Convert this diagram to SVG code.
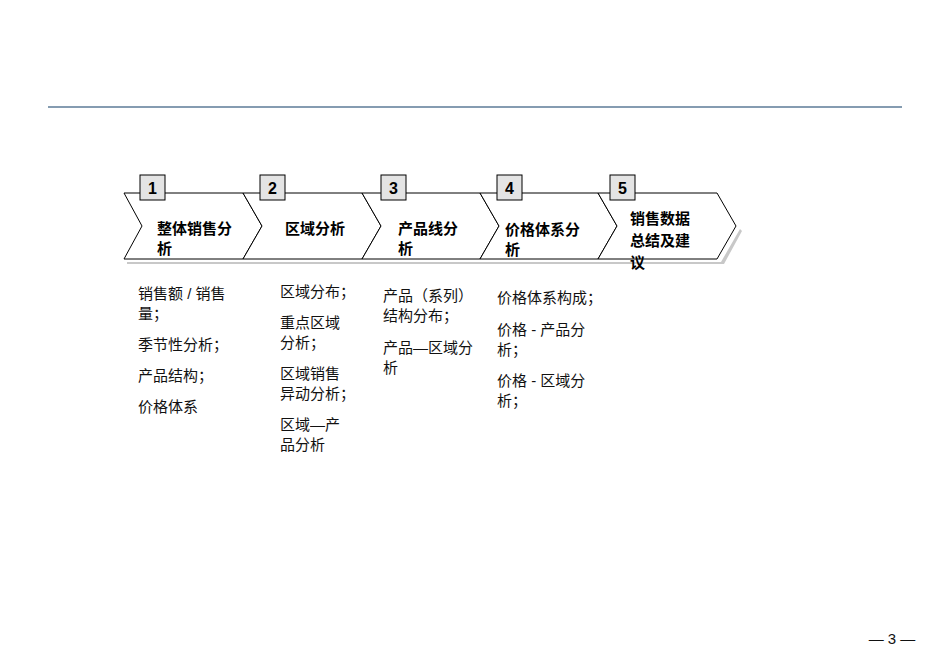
<svg xmlns="http://www.w3.org/2000/svg" width="950" height="658" viewBox="0 0 950 658">
<style>
.ch{fill:#fff;stroke:#000;stroke-width:1}
.sh{fill:#c8c8c8}
.nb{fill:#e4e4e4;stroke:#000;stroke-width:1}
.n{font-family:"Liberation Sans",sans-serif;font-weight:bold;font-size:16px;text-anchor:middle}
.t{font-family:"Liberation Sans","Noto Sans CJK SC",sans-serif;font-weight:bold;font-size:15px}
.b{font-family:"Liberation Sans","Noto Sans CJK SC",sans-serif;font-size:15px;fill:#111}
</style>
<rect width="950" height="658" fill="#fff"/>
<line x1="48" y1="107" x2="902" y2="107" stroke="#5d7b97" stroke-width="1.5"/>
<g id="shadows">
<polygon class="sh" points="127,262 721,262 740,229 742,231 724,264 127,264"/>
</g>
<g id="step1"><polygon class="ch" points="124,193 243,193 262,226 243,259 124,259 142,226"/><rect class="nb" x="140" y="175" width="25" height="25"/><text class="n" x="152.5" y="194">1</text><text class="t" x="157" y="234">整体销售分</text><text class="t" x="157" y="254">析</text></g>
<g id="step2"><polygon class="ch" points="243,193 362,193 381,226 362,259 243,259 262,226"/><rect class="nb" x="260" y="175" width="25" height="25"/><text class="n" x="272.5" y="194">2</text><text class="t" x="285" y="234">区域分析</text></g>
<g id="step3"><polygon class="ch" points="362,193 480,193 499,226 480,259 362,259 381,226"/><rect class="nb" x="381" y="175" width="25" height="25"/><text class="n" x="393.5" y="194">3</text><text class="t" x="398" y="234">产品线分</text><text class="t" x="398" y="254">析</text></g>
<g id="step4"><polygon class="ch" points="480,193 598,193 617,226 598,259 480,259 499,226"/><rect class="nb" x="497" y="175" width="25" height="25"/><text class="n" x="509.5" y="194">4</text><text class="t" x="505" y="235">价格体系分</text><text class="t" x="505" y="255">析</text></g>
<g id="step5"><polygon class="ch" points="598,193 717,193 736,226 717,259 598,259 617,226"/><rect class="nb" x="610" y="175" width="25" height="25"/><text class="n" x="622.5" y="194">5</text><text class="t" x="630" y="224">销售数据</text><text class="t" x="630" y="246">总结及建</text><text class="t" x="630" y="268">议</text></g>
<g id="lists">
<text class="b" x="138" y="299">销售额 / 销售</text><text class="b" x="138" y="319">量；</text>
<text class="b" x="138" y="350">季节性分析；</text>
<text class="b" x="138" y="381">产品结构；</text>
<text class="b" x="138" y="412">价格体系</text>
<text class="b" x="280" y="297">区域分布；</text>
<text class="b" x="280" y="328">重点区域</text><text class="b" x="280" y="348">分析；</text>
<text class="b" x="280" y="379">区域销售</text><text class="b" x="280" y="399">异动分析；</text>
<text class="b" x="280" y="430">区域—产</text><text class="b" x="280" y="450">品分析</text>
<text class="b" x="383" y="301">产品（系列）</text><text class="b" x="383" y="321">结构分布；</text>
<text class="b" x="383" y="353">产品—区域分</text><text class="b" x="383" y="373">析</text>
<text class="b" x="497" y="303">价格体系构成；</text>
<text class="b" x="497" y="335">价格 - 产品分</text><text class="b" x="497" y="355">析；</text>
<text class="b" x="497" y="386">价格 - 区域分</text><text class="b" x="497" y="406">析；</text>
</g>
<text class="b" x="892" y="644" font-size="11" text-anchor="middle">— 3 —</text>
</svg>
